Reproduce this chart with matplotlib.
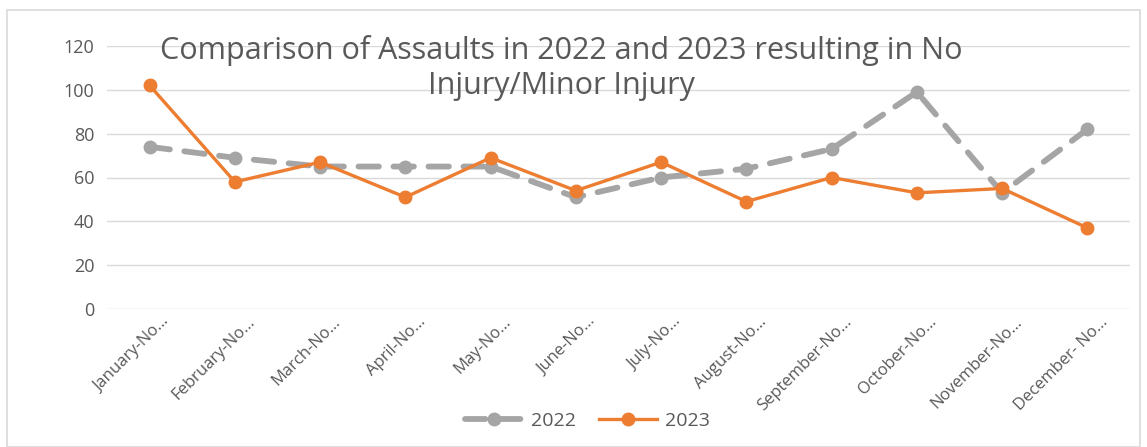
import matplotlib
matplotlib.use("Agg")
import matplotlib.pyplot as plt
import matplotlib.transforms as mtransforms
from matplotlib.patches import Rectangle

months = ["January-No…", "February-No…", "March-No…", "April-No…", "May-No…",
          "June-No…", "July-No…", "August-No…", "September-No…", "October-No…",
          "November-No…", "December- No…"]
y2022 = [74, 69, 65, 65, 65, 51, 60, 64, 73, 99, 53, 82]
y2023 = [102, 58, 67, 51, 69, 54, 67, 49, 60, 53, 55, 37]
yticks = [0, 20, 40, 60, 80, 100, 120]

plt.rcParams["font.family"] = ["Open Sans", "DejaVu Sans"]
TXT = "#595959"

fig = plt.figure(figsize=(11.47, 4.47), dpi=100)
fig.patches.append(Rectangle((7 / 1147, 0), 1133 / 1147, 437 / 447,
                             transform=fig.transFigure, fill=False,
                             edgecolor="#D9D9D9", linewidth=1.2))
ax = fig.add_axes([107 / 1147, 1 - 309 / 447, 1023 / 1147, (309 - 46) / 447])

x = list(range(len(months)))
ax.plot(x, y2022, color="#A5A5A5", linewidth=4.2, dashes=(3.5, 2.5),
        marker="o", markersize=9, label="2022", dash_capstyle="round")
ax.plot(x, y2023, color="#ED7D31", linewidth=2.4, marker="o",
        markersize=9, label="2023")

ax.set_xlim(-0.5, len(months) - 0.5)
ax.set_ylim(0, 120)
ax.set_yticks(yticks)
ax.grid(axis="y", color="#D9D9D9", linewidth=1)
ax.set_axisbelow(True)
for s in ax.spines.values():
    s.set_visible(False)
ax.tick_params(length=0, colors=TXT)
ax.tick_params(axis="y", pad=9, labelsize=13)
ax.set_xticks(x)
ax.set_xticklabels(months, rotation=45, ha="right", rotation_mode="anchor",
                   fontsize=12)
shift = mtransforms.ScaledTranslation(12 / 100, 0, fig.dpi_scale_trans)
for lbl in ax.get_xticklabels():
    lbl.set_transform(lbl.get_transform() + shift)

ax.text(0.444, 1.04, "Comparison of Assaults in 2022 and 2023 resulting in No\nInjury/Minor Injury",
        transform=ax.transAxes, ha="center", va="top", fontsize=22,
        color=TXT, linespacing=1.2)

fig.legend(loc="lower center", bbox_to_anchor=(0.512, 0.0), ncol=2,
           frameon=False, fontsize=14, labelcolor=TXT, handlelength=3,
           columnspacing=1.2, handletextpad=0.4)

fig.savefig("out.png", dpi=100)
